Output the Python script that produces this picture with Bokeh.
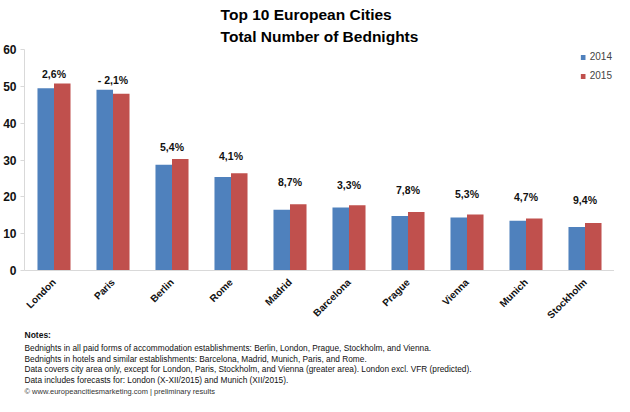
import math
from bokeh.plotting import figure
from bokeh.models import ColumnDataSource, FactorRange, Range1d, FixedTicker, Legend, LegendItem, Title
from bokeh.transform import dodge
from bokeh.core.properties import value
from bokeh.embed import file_html
from bokeh.resources import INLINE

# ---- data (million bednights) ----
cities = ["London", "Paris", "Berlin", "Rome", "Madrid", "Barcelona",
          "Prague", "Vienna", "Munich", "Stockholm"]
nights_2014 = [49.5, 49.1, 28.7, 25.4, 16.5, 17.1, 14.8, 14.4, 13.5, 11.8]
nights_2015 = [50.8, 48.0, 30.3, 26.4, 18.0, 17.7, 15.9, 15.2, 14.1, 12.9]
change_labels = ["2,6%", "- 2,1%", "5,4%", "4,1%", "8,7%", "3,3%",
                 "7,8%", "5,3%", "4,7%", "9,4%"]
series_names = ["2014", "2015"]
y_ticks = [0, 10, 20, 30, 40, 50, 60]
title_lines = ["Top 10 European Cities", "Total Number of Bednights"]
notes_heading = "Notes:"
note_lines = [
    "Bednights in all paid forms of accommodation establishments: Berlin, London, Prague, Stockholm, and Vienna.",
    "Bednights in hotels and similar establishments: Barcelona, Madrid, Munich, Paris, and Rome.",
    "Data covers city area only, except for London, Paris, Stockholm, and Vienna (greater area). London excl. VFR (predicted).",
    "Data includes forecasts for: London (X-XII/2015) and Munich (XII/2015).",
]
source_line = "\u00a9 www.europeancitiesmarketing.com | preliminary results"

# ---- styling ----
BLUE = "#4F81BD"
RED = "#C0504D"
FONT = "Liberation Sans"
label_lift_px = [9, 10, 12, 17, 22, 20, 22, 21, 22, 23]

src = ColumnDataSource(dict(
    city=cities,
    a=nights_2014,
    b=nights_2015,
    top=[max(u, v) for u, v in zip(nights_2014, nights_2015)],
    change=change_labels,
    lift=[-l for l in label_lift_px],
))

p = figure(width=614, height=396, x_range=FactorRange(factors=cities, range_padding=0),
           y_range=Range1d(0, 60), output_backend="svg", toolbar_location=None,
           title=None, min_border_left=0, min_border_right=0, min_border_top=0,
           min_border_bottom=0)

r1 = p.vbar(x=dodge("city", -0.14, range=p.x_range), top="a", width=0.28,
            source=src, fill_color=BLUE, line_color=None)
r2 = p.vbar(x=dodge("city", 0.14, range=p.x_range), top="b", width=0.28,
            source=src, fill_color=RED, line_color=None)

p.text(x="city", y="top", text="change", source=src, y_offset="lift",
       text_align="center", text_baseline="middle", text_font=value(FONT),
       text_font_style="bold", text_font_size="10.5px", text_color="#111111")

legend = Legend(items=[LegendItem(label=series_names[0], renderers=[r1]),
                       LegendItem(label=series_names[1], renderers=[r2])],
                location="top_right", glyph_width=6, glyph_height=6,
                label_text_font=FONT, label_text_font_size="10px",
                label_height=10, label_standoff=4, spacing=8, padding=2, margin=2,
                border_line_color=None, background_fill_alpha=0)
p.add_layout(legend)

p.xgrid.grid_line_color = None
p.ygrid.grid_line_color = None
p.outline_line_color = None

p.yaxis.ticker = FixedTicker(ticks=y_ticks)
p.yaxis.axis_line_color = "#d9d9d9"
p.yaxis.major_tick_line_color = "#d9d9d9"
p.yaxis.major_tick_out = 4
p.yaxis.major_tick_in = 0
p.yaxis.minor_tick_line_color = None
p.yaxis.major_label_standoff = 4
p.yaxis.major_label_text_font = FONT
p.yaxis.major_label_text_font_style = "bold"
p.yaxis.major_label_text_font_size = "12px"
p.yaxis.major_label_text_color = "#111111"

p.xaxis.axis_line_color = "#d9d9d9"
p.xaxis.major_tick_line_color = None
p.xaxis.major_label_orientation = math.pi / 4
p.xaxis.major_label_standoff = 4
p.xaxis.major_label_text_font = FONT
p.xaxis.major_label_text_font_style = "bold"
p.xaxis.major_label_text_font_size = "10px"
p.xaxis.major_label_text_color = "#111111"

# two-line title above
p.add_layout(Title(text="\n".join(title_lines), align="center", text_font=FONT,
                   text_font_style="bold", text_font_size="15.5px",
                   text_line_height=1.3, text_color="#000000", standoff=8), "above")

# notes below (first added sits closest to the plot)
p.add_layout(Title(text=notes_heading, align="left", text_font=FONT,
                   text_font_style="bold", text_font_size="8.5px",
                   text_color="#111111", standoff=1), "below")
p.add_layout(Title(text="\n".join(note_lines), align="left", text_font=FONT,
                   text_font_style="normal", text_font_size="8.3px",
                   text_line_height=1.05, text_color="#111111", standoff=0), "below")
p.add_layout(Title(text=source_line, align="left", text_font=FONT,
                   text_font_style="normal", text_font_size="7.5px",
                   text_color="#333333", standoff=1), "below")

open("out.html", "w").write(file_html(p, INLINE))
